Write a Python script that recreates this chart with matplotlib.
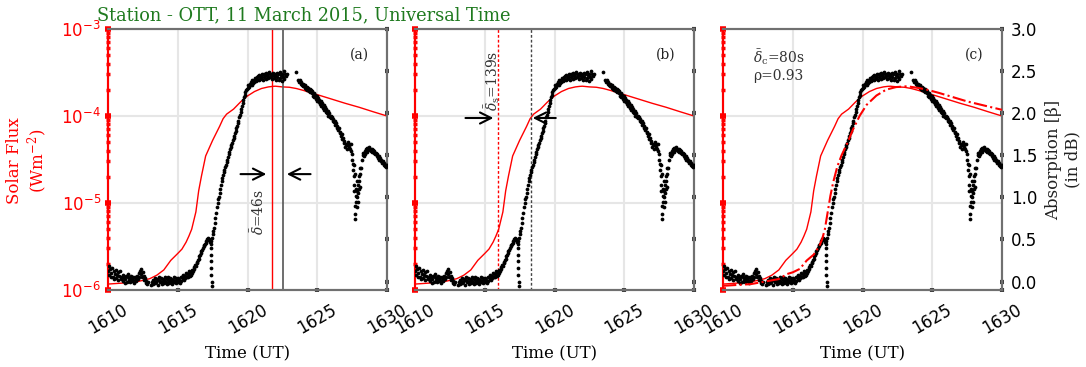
import numpy as np
import matplotlib
matplotlib.use("Agg")
import matplotlib.pyplot as plt

plt.rcParams['font.family'] = ['DejaVu Sans']
plt.rcParams['mathtext.fontset'] = 'dejavuserif'

nan = np.nan
# ---------------- data ----------------
x_ticks = [1610, 1615, 1620, 1625, 1630]
x_tick_labels = ["1610", "1615", "1620", "1625", "1630"]
abs_ticks = [0.0, 0.5, 1.0, 1.5, 2.0, 2.5, 3.0]

# GOES X-ray flux (W m^-2)
flux_t = [1610, 1611, 1612, 1612.5, 1613, 1613.5, 1614, 1614.5, 1615, 1615.3,
          1615.6, 1615.8, 1616.0, 1616.3, 1616.5, 1616.7, 1617.0, 1617.5, 1618.0,
          1618.25, 1618.5, 1619.0, 1619.5, 1620.0, 1620.5, 1621.0, 1621.5, 1621.8,
          1622.0, 1622.5, 1623.0, 1623.5, 1624.0, 1624.5, 1625.0, 1626, 1627, 1628,
          1629, 1630]
flux = [1.17e-6, 1.20e-6, 1.24e-6, 1.29e-6, 1.35e-6, 1.48e-6, 1.70e-6, 2.19e-6,
        2.63e-6, 2.95e-6, 3.55e-6, 4.17e-6, 5.0e-6, 7.9e-6, 1.38e-5, 2.04e-5,
        3.47e-5, 5.25e-5, 7.6e-5, 9.3e-5, 1.05e-4, 1.20e-4, 1.45e-4, 1.70e-4,
        1.91e-4, 2.07e-4, 2.16e-4, 2.19e-4, 2.20e-4, 2.16e-4, 2.14e-4, 2.07e-4,
        1.97e-4, 1.86e-4, 1.76e-4, 1.57e-4, 1.40e-4, 1.26e-4, 1.12e-4, 1.00e-4]

# modelled absorption with delay (dB), panel (c)
model_t = [1610, 1611, 1612, 1613, 1614, 1614.6, 1615, 1615.5, 1616, 1616.5, 1616.9,
           1617.1, 1617.3, 1617.5, 1617.7, 1617.9, 1618.2, 1618.5, 1618.9, 1619.3,
           1619.8, 1620.3, 1621.0, 1621.7, 1622.4, 1623.2, 1624.0, 1624.6, 1625.5,
           1626.5, 1627.5, 1628.5, 1629.5, 1630]
model_db = [-0.05, -0.04, -0.03, 0.00, 0.03, 0.09, 0.11, 0.15, 0.25, 0.32, 0.42,
            0.50, 0.62, 0.82, 1.02, 1.18, 1.37, 1.50, 1.64, 1.80, 1.97, 2.10, 2.21,
            2.28, 2.31, 2.32, 2.30, 2.28, 2.24, 2.19, 2.14, 2.10, 2.06, 2.04]

# riometer absorption (dB), sampled every 3 s from 16:10 to 16:30
abs_start, abs_step = 1610.0, 0.05
absorption_db = [
    0.12, 0.18, 0.08, 0.15, 0.05, 0.10, 0.16, 0.06, 0.12, 0.03, 0.09, 0.14, 0.04, 0.08, 0.11, 0.02, 0.07, 0.12, 0.03, 0.06,
    0.04, 0.08, 0.01, 0.06, -0.02, 0.03, 0.07, 0.00, 0.05, 0.09, 0.02, -0.01, 0.04, 0.07, 0.01, 0.03, 0.06, -0.02, 0.02, 0.05,
    0.01, 0.04, 0.07, 0.03, 0.10, 0.06, 0.13, 0.09, 0.15, 0.05, 0.11, 0.07, 0.02, 0.04, -0.02, 0.01, -0.03, 0.00, nan, nan,
    nan, nan, -0.04, -0.01, 0.02, -0.03, 0.01, 0.04, -0.02, 0.00, 0.03, -0.04, 0.02, 0.05, -0.01, 0.01, 0.04, -0.03, 0.00, 0.03,
    -0.02, 0.02, 0.05, 0.00, -0.03, 0.03, 0.06, 0.01, -0.02, 0.04, 0.00, 0.03, -0.03, 0.02, 0.05, -0.01, 0.01, 0.04, -0.02, 0.02,
    0.00, 0.04, 0.02, -0.02, 0.05, 0.01, 0.06, 0.03, 0.08, 0.02, 0.07, 0.04, 0.10, 0.05, 0.09, 0.06, 0.12, 0.07, 0.11, 0.08,
    0.10, 0.14, 0.12, 0.17, 0.15, 0.20, 0.19, 0.23, 0.22, 0.26, 0.27, 0.30, 0.31, 0.34, 0.36, 0.38, 0.40, 0.42, 0.44, 0.45,
    0.46, 0.48, 0.50, 0.49, 0.52, 0.50, 0.47, 0.45, 0.48, 0.52, 0.56, 0.60, 0.64, 0.69, 0.75, 0.82, 0.88, 0.93, 0.98, 1.01,
    1.05, 1.10, 1.15, 1.19, 1.23, 1.27, 1.30, 1.33, 1.36, 1.39, 1.42, 1.45, 1.48, 1.51, 1.54, 1.57, 1.60, 1.62, 1.65, 1.68,
    1.70, 1.73, 1.76, 1.79, 1.82, 1.85, 1.88, 1.91, 1.95, 1.98, 2.02, 2.05, 2.09, 2.12, 2.16, 2.19, 2.22, 2.25, 2.27, 2.29,
    2.30, 2.33, 2.31, 2.35, 2.33, 2.37, 2.34, 2.39, 2.36, 2.40, 2.37, 2.42, 2.38, 2.43, 2.40, 2.44, 2.39, 2.45, 2.41, 2.44,
    2.42, 2.46, 2.40, 2.47, 2.43, 2.45, 2.41, 2.48, 2.44, 2.46, 2.42, 2.49, 2.43, 2.47, 2.44, 2.41, 2.48, 2.45, 2.42, 2.47,
    2.44, 2.40, 2.48, 2.43, 2.46, 2.39, 2.49, 2.42, 2.45, 2.38, 2.47, 2.43, 2.50, 2.41, 2.46, 2.44, 2.47, nan, nan, nan,
    nan, nan, nan, nan, nan, nan, nan, nan, nan, nan, 2.49, nan, nan, 2.40, 2.37, 2.39, 2.35, 2.37, 2.33, 2.35,
    2.32, 2.34, 2.30, 2.33, 2.29, 2.31, 2.28, 2.30, 2.26, 2.29, 2.25, 2.28, 2.24, 2.26, 2.21, 2.24, 2.19, 2.22, 2.17, 2.20,
    2.15, 2.18, 2.13, 2.16, 2.11, 2.14, 2.09, 2.12, 2.06, 2.10, 2.04, 2.07, 2.02, 2.05, 2.00, 2.03, 1.97, 2.00, 1.95, 1.97,
    1.94, 1.96, 1.91, 1.93, 1.89, 1.91, 1.86, 1.88, 1.83, 1.85, 1.80, 1.82, 1.76, 1.78, 1.73, 1.75, 1.69, 1.71, 1.65, 1.67,
    1.60, 1.63, 1.57, 1.62, 1.66, 1.60, 1.64, 1.58, 1.63, 1.55, 1.52, 1.40, 1.25, 1.08, 0.80, 0.95, 1.10, 1.00, 1.15, 1.05,
    1.20, 1.12, 1.28, 1.35, 1.45, 1.50, 1.53, 1.49, 1.55, 1.52, 1.57, 1.54, 1.59, 1.56, 1.60, 1.57, 1.58, 1.55, 1.57, 1.54,
    1.56, 1.53, 1.55, 1.51, 1.53, 1.49, 1.51, 1.47, 1.49, 1.45, 1.47, 1.43, 1.45, 1.41, 1.43, 1.39, 1.41, 1.37, 1.39, 1.36,
    1.38]
# extra scattered samples (glitch at 16:17 and dip at 16:27-16:28)
extra_t = [1617.38, 1617.39, 1617.40, 1617.40, 1617.41, 1617.42, 1617.42,
           1627.52, 1627.58, 1627.62, 1627.68, 1627.72, 1627.78, 1627.82, 1627.88,
           1627.92, 1627.98, 1628.02, 1628.08, 1627.62, 1627.72, 1627.85]
extra_db = [0.40, 0.32, 0.24, 0.16, 0.08, 0.00, -0.05,
            1.45, 1.32, 1.15, 0.90, 0.74, 1.02, 1.20, 1.08,
            0.95, 1.25, 1.10, 1.35, 1.38, 1.28, 0.88]

flux_peak_t = 1621.75
abs_peak_t = 1622.52
flux_half_t = 1615.97
abs_half_t = 1618.29
panel_labels = ["(a)", "(b)", "(c)"]
# --------------------------------------

abs_t = abs_start + abs_step * np.arange(len(absorption_db))

W, H = 1086, 367
fig = plt.figure(figsize=(W / 100, H / 100), dpi=100)
lefts = [108, 415, 723]
spine_gray = '#707070'
tick_gray = '#404040'

for i, lp in enumerate(lefts):
    ax = fig.add_axes([lp / W, 77 / H, 279 / W, 261 / H])
    tw = ax.twinx()
    ax.set_yscale('log')
    ax.set_ylim(1e-6, 1e-3)
    ax.set_xlim(1610, 1630)
    ax.set_xticks(x_ticks)
    ax.set_xticklabels(x_tick_labels, rotation=30, fontsize=12)
    ax.grid(True, which='major', color='#e6e6e6', lw=1.5)
    ax.set_axisbelow(True)
    ax.tick_params(axis='x', direction='inout', length=3, width=3, color=tick_gray, pad=6)
    ax.tick_params(axis='y', which='major', direction='inout', length=4, width=4,
                   color='red', labelcolor='red', labelsize=12, pad=3)
    ax.tick_params(axis='y', which='minor', direction='inout', length=2.5, width=2.5, color='red')
    if i > 0:
        ax.tick_params(axis='y', which='both', labelleft=False)
    tw.set_ylim(-0.1, 3.0)
    tw.set_yticks(abs_ticks)
    tw.tick_params(axis='y', direction='inout', length=3, width=3, color=tick_gray,
                   labelsize=12, pad=5)
    if i < 2:
        tw.tick_params(axis='y', labelright=False)
    for a in (ax, tw):
        for s in ('top', 'bottom', 'right'):
            a.spines[s].set_color(spine_gray)
            a.spines[s].set_linewidth(1.5)
        a.spines['left'].set_color('red')
        a.spines['left'].set_linewidth(1.5)

    ax.plot(flux_t, flux, color='red', lw=1.0, zorder=3)
    tw.plot(abs_t, absorption_db, 'o', color='black', ms=2.7, mew=0, zorder=3)
    tw.plot(extra_t, extra_db, 'o', color='black', ms=2.7, mew=0, zorder=3)

    ax.text(0.9, 0.9, panel_labels[i], transform=ax.transAxes, ha='center', va='center',
            fontsize=10, family='DejaVu Serif', color='#222222')
    ax.set_xlabel('Time (UT)', family='DejaVu Serif', fontsize=12, labelpad=6)

    if i == 0:
        ax.axvline(flux_peak_t, color='red', lw=1.0, zorder=4)
        ax.axvline(abs_peak_t, color='#555555', lw=1.2, zorder=4)
        ya = 0.444
        ax.annotate('', xy=(flux_peak_t - 0.2, ya), xytext=(flux_peak_t - 2.45, ya),
                    xycoords=('data', 'axes fraction'), textcoords=('data', 'axes fraction'),
                    arrowprops=dict(arrowstyle='->', lw=1.5, color='black', mutation_scale=20))
        ax.annotate('', xy=(abs_peak_t + 0.1, ya), xytext=(abs_peak_t + 2.2, ya),
                    xycoords=('data', 'axes fraction'), textcoords=('data', 'axes fraction'),
                    arrowprops=dict(arrowstyle='->', lw=1.5, color='black', mutation_scale=20))
        ax.text(flux_peak_t - 1.0, 0.30, r'$\bar{\delta}$=46s', rotation=90,
                transform=ax.get_xaxis_transform(), ha='center', va='center',
                fontsize=10, family='DejaVu Serif', color='#333333')
    elif i == 1:
        ax.axvline(flux_half_t, color='red', lw=1.0, ls=(0, (2, 1.5)), zorder=4)
        ax.axvline(abs_half_t, color='#444444', lw=1.0, ls=(0, (2, 1.5)), zorder=4)
        ya = 0.659
        ax.annotate('', xy=(flux_half_t - 0.15, ya), xytext=(flux_half_t - 2.55, ya),
                    xycoords=('data', 'axes fraction'), textcoords=('data', 'axes fraction'),
                    arrowprops=dict(arrowstyle='->', lw=1.5, color='black', mutation_scale=20))
        ax.annotate('', xy=(abs_half_t - 0.05, ya), xytext=(abs_half_t + 2.0, ya),
                    xycoords=('data', 'axes fraction'), textcoords=('data', 'axes fraction'),
                    arrowprops=dict(arrowstyle='->', lw=1.5, color='black', mutation_scale=20))
        ax.text(flux_half_t - 0.45, 0.80, r'$\bar{\delta}_{\mathrm{s}}$=139s', rotation=90,
                transform=ax.get_xaxis_transform(), ha='center', va='center',
                fontsize=10, family='DejaVu Serif', color='#333333')
    else:
        tw.plot(model_t, model_db, color='red', lw=1.5, ls='-.', zorder=4)
        ax.text(0.107, 0.93, r'$\bar{\delta}_{\mathrm{c}}$=80s' + '\n' + 'ρ=0.93',
                transform=ax.transAxes, ha='left', va='top', fontsize=10,
                family='DejaVu Serif', color='#333333', linespacing=1.2)

fig.text(97 / W, 1 - 15 / H, 'Station - OTT, 11 March 2015, Universal Time',
         color='#1f7a1f', family='DejaVu Serif', fontsize=12.8, ha='left', va='center')
fig.text(28 / W, 1 - 161 / H, 'Solar Flux\n(Wm$^{-2}$)', color='red', family='DejaVu Serif',
         fontsize=12, rotation=90, ha='center', va='center', multialignment='center')
fig.text(1063 / W, 1 - 160 / H, 'Absorption [β]\n(in dB)', color='#222222',
         family='DejaVu Serif', fontsize=12, rotation=90, ha='center', va='center',
         multialignment='center')

fig.savefig('out.png', dpi=100)
